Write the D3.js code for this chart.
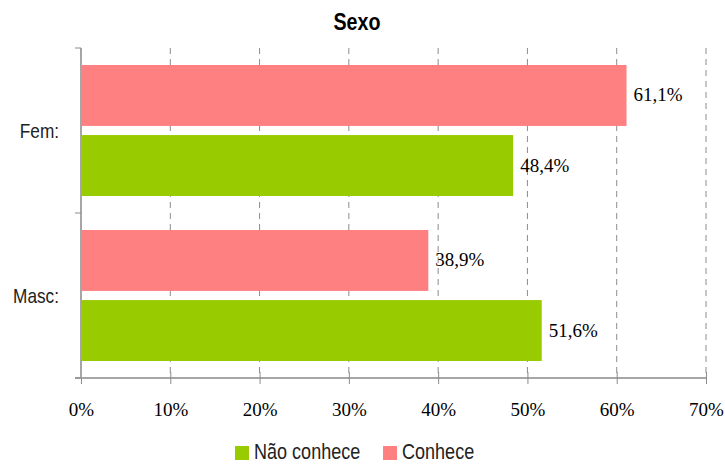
<!DOCTYPE html>
<html>
<head>
<meta charset="utf-8">
<script src="https://cdn.jsdelivr.net/npm/d3@7"></script>
<style>
  body { margin: 0; background: #fff; }
  svg { display: block; }
</style>
</head>
<body>
<svg id="chart" width="725" height="464"></svg>
<script>
// data
var categories = ["Fem:", "Masc:"];
var series = ["Conhece", "Não conhece"];
var conhece = [61.1, 38.9];
var naoConhece = [48.4, 51.6];
var ticks = [0, 10, 20, 30, 40, 50, 60, 70];
var legendItems = ["Não conhece", "Conhece"];

var colors = { "Conhece": "#ff8080", "Não conhece": "#99cc00" };
var sans = "'Liberation Sans', Arial, sans-serif";
var serif = "'Liberation Serif', 'Times New Roman', serif";
var squeeze = 0.82; // narrow look of the original font

var svg = d3.select("#chart");
var mLeft = 81, mRight = 706, mTop = 48, mBottom = 378;

var x = d3.scaleLinear().domain([0, 70]).range([mLeft, mRight]);
var y0 = d3.scaleBand().domain(categories).range([mTop, mBottom]);
var y1 = d3.scaleBand().domain(series).range([17, 148]).paddingInner(0.13);

function narrowAt(sel, px, py) {
  return sel.attr("transform", "translate(" + px + "," + py + ") scale(" + squeeze + ",1)");
}

// title
narrowAt(svg.append("text"), 357, 30)
  .attr("text-anchor", "middle")
  .attr("font-family", sans)
  .attr("font-weight", "bold")
  .attr("font-size", "24px")
  .text("Sexo");

// dashed gridlines
svg.append("g").selectAll("line")
  .data(ticks.slice(1))
  .join("line")
  .attr("x1", d => x(d)).attr("x2", d => x(d))
  .attr("y1", mTop).attr("y2", mBottom)
  .attr("stroke", "#8c8c8c")
  .attr("stroke-width", 1)
  .attr("stroke-dasharray", "6,5");

// bars
var rows = [];
categories.forEach(function(c, i) {
  rows.push({ cat: c, s: "Conhece", v: conhece[i] });
  rows.push({ cat: c, s: "Não conhece", v: naoConhece[i] });
});

svg.append("g").selectAll("rect")
  .data(rows)
  .join("rect")
  .attr("x", x(0))
  .attr("y", d => y0(d.cat) + y1(d.s))
  .attr("width", d => x(d.v) - x(0))
  .attr("height", y1.bandwidth())
  .attr("fill", d => colors[d.s]);

// value labels
svg.append("g").selectAll("text")
  .data(rows)
  .join("text")
  .attr("x", d => x(d.v) + 7)
  .attr("y", d => y0(d.cat) + y1(d.s) + y1.bandwidth() / 2 + 6)
  .attr("font-family", serif)
  .attr("font-size", "19px")
  .attr("fill", "#000")
  .text(d => d.v.toFixed(1).replace(".", ",") + "%");

// x axis
var xAxis = svg.append("g")
  .attr("transform", "translate(0," + mBottom + ")")
  .call(d3.axisBottom(x).tickValues(ticks).tickSize(6).tickSizeOuter(0)
    .tickFormat(d => d + "%"));
xAxis.select(".domain").attr("stroke", "#a6a6a6").attr("stroke-width", 2)
  .attr("d", "M" + (mLeft - 6) + ",0H" + mRight);
xAxis.selectAll(".tick line").attr("stroke", "#8c8c8c").attr("y1", -6).attr("y2", 6);
xAxis.selectAll(".tick text")
  .attr("font-family", serif).attr("font-size", "19px").attr("fill", "#000")
  .attr("y", 38).attr("dy", null);

// y axis
var yAxis = svg.append("g")
  .attr("transform", "translate(" + mLeft + ",0)");
yAxis.append("line")
  .attr("x1", 0).attr("x2", 0).attr("y1", mTop).attr("y2", mBottom)
  .attr("stroke", "#a6a6a6").attr("stroke-width", 2);
yAxis.selectAll("line.tk")
  .data([mTop, y0("Masc:"), mBottom])
  .join("line").attr("class", "tk")
  .attr("x1", -6).attr("x2", 0)
  .attr("y1", d => d).attr("y2", d => d)
  .attr("stroke", "#8c8c8c");
yAxis.selectAll("text")
  .data(categories)
  .join("text")
  .each(function(d) {
    narrowAt(d3.select(this), -22, y0(d) + y0.bandwidth() / 2 + 7);
  })
  .attr("text-anchor", "end")
  .attr("font-family", sans)
  .attr("font-size", "21px")
  .attr("fill", "#222")
  .text(d => d);

// legend
var lg = svg.append("g");
var lx = [235, 383];
legendItems.forEach(function(s, i) {
  lg.append("rect")
    .attr("x", lx[i]).attr("y", 446)
    .attr("width", 14).attr("height", 14)
    .attr("fill", colors[s]);
  narrowAt(lg.append("text"), lx[i] + 19, 459)
    .attr("font-family", sans)
    .attr("font-size", "22px")
    .attr("fill", "#222")
    .text(s);
});
</script>
</body>
</html>
